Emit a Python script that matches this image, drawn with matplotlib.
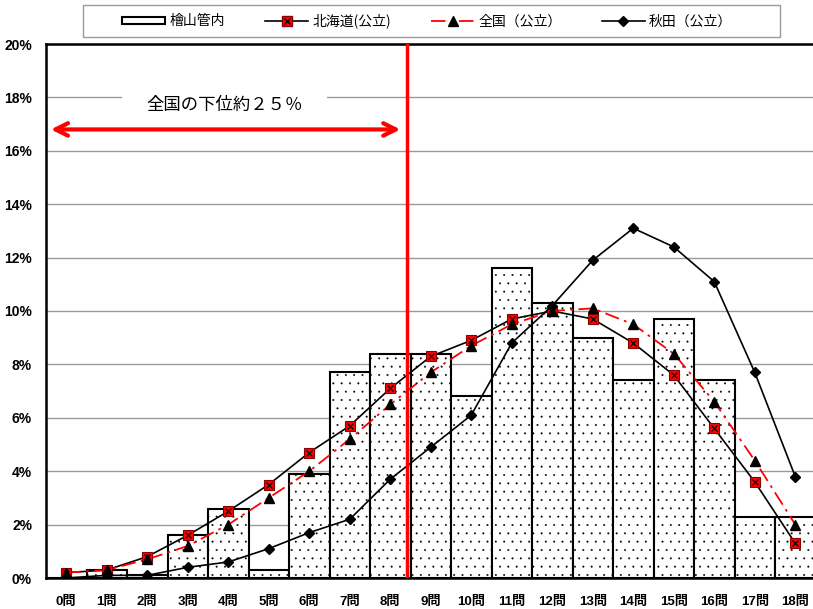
import matplotlib
matplotlib.use("Agg")
import matplotlib.pyplot as plt
from matplotlib.legend_handler import HandlerTuple
from matplotlib.patches import Patch, Rectangle
import numpy as np

plt.rcParams['font.family'] = ['Liberation Sans', 'Noto Sans CJK JP', 'DejaVu Sans']
plt.rcParams['hatch.linewidth'] = 0.2
plt.rcParams['hatch.color'] = '#555555'

categories = [f"{i}問" for i in range(19)]
hiyama = [0.0, 0.3, 0.1, 1.6, 2.6, 0.3, 3.9, 7.7, 8.4, 8.4, 6.8, 11.6, 10.3, 9.0, 7.4, 9.7, 7.4, 2.3, 2.3]
hokkaido = [0.2, 0.3, 0.8, 1.6, 2.5, 3.5, 4.7, 5.7, 7.1, 8.3, 8.9, 9.7, 10.0, 9.7, 8.8, 7.6, 5.6, 3.6, 1.3]
zenkoku = [0.2, 0.3, 0.7, 1.2, 2.0, 3.0, 4.0, 5.2, 6.5, 7.7, 8.7, 9.5, 10.0, 10.1, 9.5, 8.4, 6.6, 4.4, 2.0]
akita = [0.0, 0.1, 0.1, 0.4, 0.6, 1.1, 1.7, 2.2, 3.7, 4.9, 6.1, 8.8, 10.2, 11.9, 13.1, 12.4, 11.1, 7.7, 3.8]
yticks = [0, 2, 4, 6, 8, 10, 12, 14, 16, 18, 20]
cut_position = 8.42
label_legend = ["檜山管内", "北海道(公立)", "全国（公立）", "秋田（公立）"]
annot_text = "全国の下位約２５％"

fig = plt.figure(figsize=(8.13, 6.09), dpi=100)
ax = fig.add_axes([46/813, 1-578/609, (815.5-46)/813, (578-44)/609])
x = np.arange(len(categories))

bars = ax.bar(x, hiyama, width=1.0, color='white', edgecolor='black', linewidth=1.5,
              hatch='..', zorder=2)
ax.plot(x, hokkaido, color='black', lw=1.2, zorder=4)
ax.plot(x, hokkaido, ls='none', marker='s', ms=7, mfc='red', mec='#880000', mew=0.8, zorder=5)
ax.plot(x, hokkaido, ls='none', marker='x', ms=5, mec='black', mew=0.8, zorder=6)
ax.plot(x, zenkoku, color='red', lw=1.3, dashes=[8, 3, 1.5, 3], zorder=4)
ax.plot(x, zenkoku, ls='none', marker='^', ms=7, color='black', zorder=5)
ax.plot(x, akita, color='black', lw=1.2, marker='D', ms=5, zorder=5)

ax.set_xlim(-0.5, len(categories) - 0.5)
ax.set_ylim(0, 20)
ax.set_yticks(yticks)
ax.set_yticklabels([f"{v}%" for v in yticks], fontweight='bold', fontsize=10)
ax.set_xticks(x)
ax.set_xticklabels(categories, fontweight='bold', fontsize=9.5)
ax.tick_params(axis='x', length=0, pad=13)
ax.tick_params(axis='y', length=0, pad=10)
ax.yaxis.grid(True, color='#999999', lw=1.0)
ax.set_axisbelow(True)
for s in ax.spines.values():
    s.set_linewidth(1.8)
    s.set_color('black')

ax.axvline(cut_position, color='red', lw=2.5, zorder=7)
ax.annotate('', xy=(-0.38, 16.8), xytext=(8.25, 16.8),
            arrowprops=dict(arrowstyle='<->,head_length=0.9,head_width=0.45',
                            color='red', lw=3, shrinkA=0, shrinkB=0),
            zorder=7)
ax.text(3.9, 17.7, annot_text, fontsize=12.5, ha='center', va='center',
        bbox=dict(boxstyle='square,pad=1.4', fc='white', ec='none'), zorder=3,
        family=['Noto Sans CJK JP', 'DejaVu Sans'])

# legend frame
fig.patches.append(Rectangle((83/813, 1-37/609), (780-83)/813, 32/609,
                             transform=fig.transFigure, fc='white', ec='#999999', lw=1.0))

h_bar = Patch(facecolor='white', edgecolor='black', hatch='..', lw=1.5)
h_hok_line, = ax.plot([], [], color='black', lw=1.2, marker='s', ms=7, mfc='red', mec='#880000')
h_hok_x, = ax.plot([], [], ls='none', marker='x', ms=5, mec='black')
h_zen, = ax.plot([], [], color='red', lw=1.3, dashes=[8, 3, 1.5, 3], marker='^', ms=7,
                 mfc='black', mec='black')
h_aki, = ax.plot([], [], color='black', lw=1.2, marker='D', ms=5)
leg = fig.legend([h_bar, (h_hok_line, h_hok_x), h_zen, h_aki], label_legend,
                 handler_map={tuple: HandlerTuple(ndivide=1, pad=0)},
                 loc='center left', ncol=4, bbox_to_anchor=(122/813, 1-21/609),
                 frameon=False, borderpad=0, borderaxespad=0,
                 prop={'family': ['Noto Sans CJK JP', 'DejaVu Sans'], 'size': 10},
                 handlelength=3.1, handleheight=0.5, handletextpad=0.3, columnspacing=2.9)

fig.savefig('out.png', dpi=100)
